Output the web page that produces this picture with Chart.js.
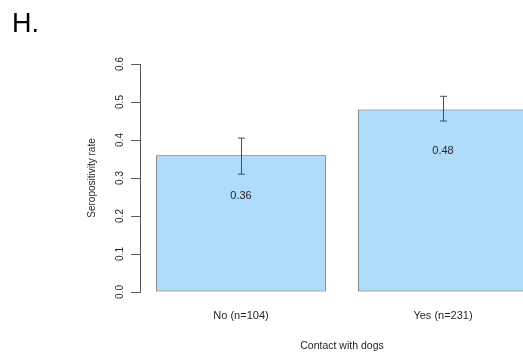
<!DOCTYPE html>
<html lang="en">
<head>
<meta charset="UTF-8">
<title>Seropositivity rate by contact with dogs</title>
<script src="https://cdn.jsdelivr.net/npm/chart.js@4"></script>
<style>
  html, body {
    margin: 0;
    padding: 0;
    background: #fff;
    overflow: hidden;
  }
  #wrap {
    position: absolute;
    left: 0;
    top: 0;
    width: 560px;
    height: 353px;
  }
</style>
</head>
<body>
<div id="wrap"><canvas id="dogChart" width="560" height="353"></canvas></div>
<script>
// Seropositivity by dog contact, with error bars
const categories = ['No (n=104)', 'Yes (n=231)'];
const rates = [0.36, 0.48];
const ciLower = [0.31, 0.45];
const ciUpper = [0.405, 0.515];
const yMin = 0;
const yMax = 0.6;
const yStep = 0.1;

const FONT = "'Liberation Sans', Arial, Helvetica, sans-serif";
const INK = '#262626';
const EDGE = '#5a5a5a';

// Draws the error bars and the rate written inside each bar
const barExtras = {
  id: 'barExtras',
  afterDatasetsDraw(chart) {
    const ctx = chart.ctx;
    const yScale = chart.scales.y;
    const meta = chart.getDatasetMeta(0);
    ctx.save();
    meta.data.forEach((bar, i) => {
      const x = Math.round(bar.x) + 0.5;
      const yHi = yScale.getPixelForValue(ciUpper[i]);
      const yLo = yScale.getPixelForValue(ciLower[i]);
      ctx.strokeStyle = '#4a4a4a';
      ctx.lineWidth = 1;
      ctx.beginPath();
      ctx.moveTo(x, yHi);
      ctx.lineTo(x, yLo);
      ctx.moveTo(x - 3.5, yHi);
      ctx.lineTo(x + 3.5, yHi);
      ctx.moveTo(x - 3.5, yLo);
      ctx.lineTo(x + 3.5, yLo);
      ctx.stroke();

      ctx.fillStyle = INK;
      ctx.font = '11px ' + FONT;
      ctx.textAlign = 'center';
      ctx.textBaseline = 'middle';
      ctx.fillText(rates[i].toFixed(2), bar.x, yScale.getPixelForValue(rates[i] - 0.1) + 3);
    });
    ctx.restore();
  }
};

const ctx = document.getElementById('dogChart').getContext('2d');
new Chart(ctx, {
  type: 'bar',
  data: {
    labels: categories,
    datasets: [{
      data: rates,
      backgroundColor: '#aedcfa',
      borderColor: EDGE,
      borderWidth: 1,
      borderSkipped: false,
      barPercentage: 0.84,
      categoryPercentage: 1
    }]
  },
  options: {
    responsive: false,
    animation: false,
    layout: {
      padding: { left: 12, right: 16, top: 0, bottom: 0 }
    },
    plugins: {
      legend: { display: false },
      tooltip: { enabled: false },
      title: {
        display: true,
        text: 'H.',
        align: 'start',
        color: '#000',
        font: { family: FONT, size: 27, weight: 'normal' },
        padding: { top: 8, bottom: 23.6 }
      }
    },
    scales: {
      x: {
        offset: true,
        grid: { display: false, drawTicks: false },
        border: { display: false },
        ticks: {
          color: INK,
          font: { family: FONT, size: 11 },
          padding: 17
        },
        title: {
          display: true,
          text: 'Contact with dogs',
          color: INK,
          font: { family: FONT, size: 10.5 },
          padding: { top: 0, bottom: 1 }
        },
        afterFit(scale) {
          scale.height = 61;
        }
      },
      y: {
        min: yMin,
        max: yMax,
        grid: {
          display: true,
          drawOnChartArea: false,
          drawTicks: true,
          tickLength: 9,
          color: EDGE
        },
        border: { display: true, color: EDGE, width: 1 },
        ticks: {
          stepSize: yStep,
          autoSkip: false,
          minRotation: 90,
          maxRotation: 90,
          crossAlign: 'center',
          padding: 4,
          color: INK,
          font: { family: FONT, size: 10 },
          callback: (v) => Number(v).toFixed(1)
        },
        title: {
          display: true,
          text: 'Seropositivity rate',
          color: INK,
          font: { family: FONT, size: 10 },
          padding: { top: 74, bottom: 0 }
        },
        afterFit(scale) {
          scale.width = 128;
        }
      }
    }
  },
  plugins: [barExtras]
});
</script>
</body>
</html>
